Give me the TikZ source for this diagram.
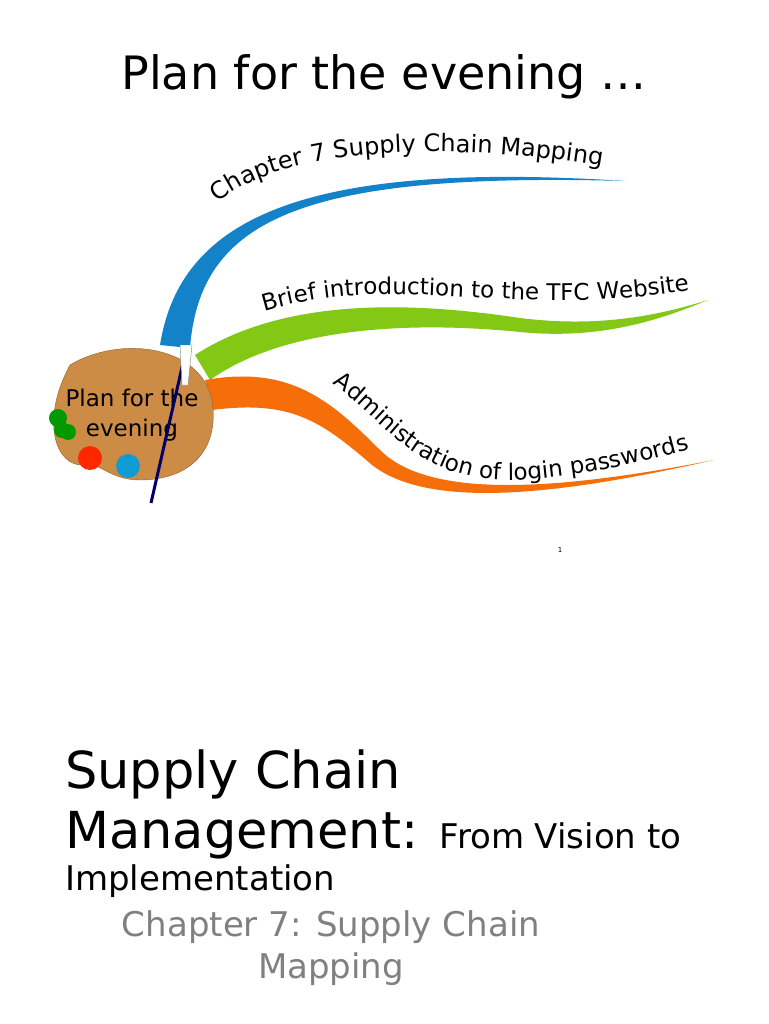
\documentclass[tikz,border=0pt]{standalone}
\usepackage{fontspec}
\setmainfont{DejaVu Sans}
\usetikzlibrary{decorations.text}
\definecolor{bluebr}{RGB}{20,130,200}
\definecolor{greenbr}{RGB}{130,200,20}
\definecolor{orangebr}{RGB}{245,110,10}
\definecolor{wood}{RGB}{205,140,70}
\tikzset{
  branchtext/.style={decoration={text along path,text={#1},text align=center,
    text format delimiters={|}{|}},decorate},
  title/.style={anchor=base west,inner sep=0pt}
}
\begin{document}
\begin{tikzpicture}[x=1pt,y=-1pt]
\useasboundingbox[fill=white] (0,0) rectangle (768,1024);

\node[anchor=base] (title) at (384,90) {\fontsize{46}{52}\selectfont Plan for the evening \dots};

% branches
\fill[bluebr] (160,345) .. controls (180,220) and (300,160) .. (625,181)
  .. controls (300,172) and (200,220) .. (190,348) -- cycle;
\fill[greenbr] (195,355) .. controls (280,300) and (400,300) .. (520,318)
  .. controls (600,328) and (660,315) .. (708,300)
  .. controls (660,320) and (600,340) .. (520,332)
  .. controls (400,320) and (280,330) .. (210,380) -- cycle;
\fill[orangebr] (205,380) .. controls (290,365) and (330,400) .. (380,450)
  .. controls (430,500) and (560,490) .. (714,460)
  .. controls (560,495) and (430,510) .. (372,465)
  .. controls (320,420) and (290,400) .. (212,410) -- cycle;

% labels along branches
\path[branchtext={|\fontsize{24}{28}\selectfont|Chapter 7 Supply Chain Mapping}]
  (208,212) .. controls (270,145) and (450,140) .. (615,168);
\path[branchtext={|\fontsize{23}{28}\selectfont|Brief introduction to the TFC Website}]
  (262,312) .. controls (400,270) and (500,320) .. (692,290);
\path[branchtext={|\fontsize{23}{28}\selectfont|Administration of login passwords}]
  (326,380) .. controls (380,410) and (410,485) .. (520,480)
  .. controls (600,474) and (650,460) .. (697,447);

% palette
\fill[wood,draw=wood!70!black] (70,365) .. controls (120,335) and (200,345) .. (212,400)
  .. controls (220,450) and (190,480) .. (140,480)
  .. controls (110,480) and (100,462) .. (85,465)
  .. controls (55,468) and (40,420) .. (70,365) -- cycle;
\fill[green!60!black] (58,418) circle (9) (68,432) circle (8) (62,430) circle (8);
\fill[red!70!orange] (90,458) circle (12);
\fill[bluebr!80!cyan] (128,466) circle (12);
\node[align=center,font=\fontsize{23}{30}\selectfont] (palette) at (132,415) {Plan for the\\ evening};
\draw[line width=3,blue!40!black] (186,350) -- (151,503);
\fill[white,draw=gray] (180,345) -- (192,345) -- (188,385) -- (182,385) -- cycle;

\node (page) at (560,550) {\scriptsize 1};

\node[title] (t1) at (65,788) {\fontsize{51}{56}\selectfont Supply Chain};
\node[title] (t2) at (65,848) {\fontsize{51}{56}\selectfont Management: \fontsize{34}{38}\selectfont From Vision to};
\node[title] (t3) at (65,890) {\fontsize{34}{38}\selectfont Implementation};
\node[align=center,text=gray,font=\fontsize{34}{42}\selectfont] (sub) at (331,948) {Chapter 7: Supply Chain\\ Mapping};
\end{tikzpicture}
\end{document}
